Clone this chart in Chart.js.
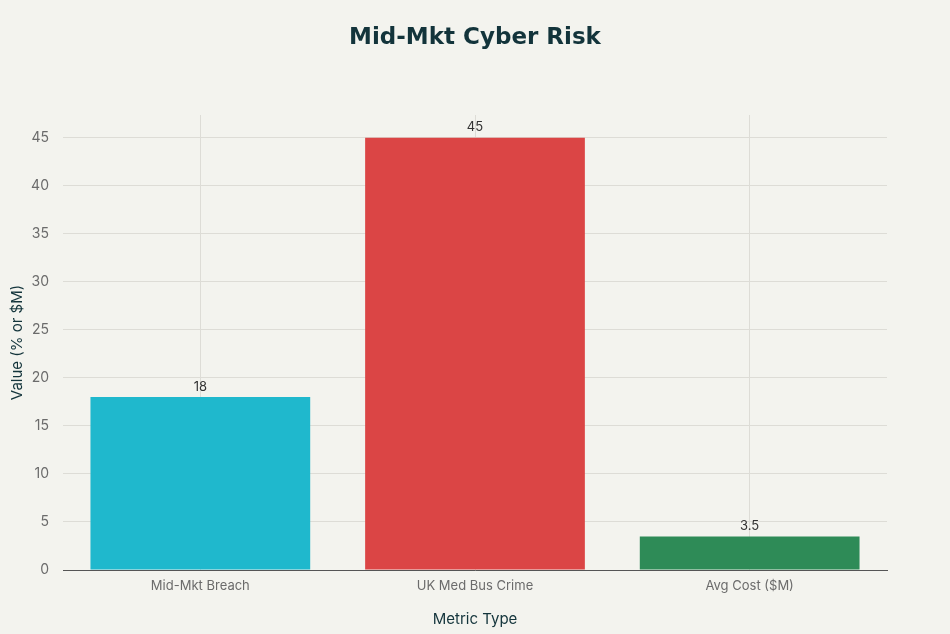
<!DOCTYPE html>
<html>
<head>
<meta charset="utf-8">
<script src="https://cdn.jsdelivr.net/npm/chart.js@4"></script>
<style>
html,body{margin:0;padding:0;background:#f3f3ee;}
#wrap{width:950px;height:634px;position:relative;}
</style>
</head>
<body>
<div id="wrap"><canvas id="c" width="950" height="634"></canvas></div>
<script>
const categories = ["Mid-Mkt Breach", "UK Med Bus Crime", "Avg Cost ($M)"];
const values = [18, 45, 3.5];
const valueLabels = ["18", "45", "3.5"];
const barColors = ["#1fb8cd", "#db4545", "#2e8b57"];
const yTicks = [0, 5, 10, 15, 20, 25, 30, 35, 40, 45];
const titleText = "Mid-Mkt Cyber Risk";
const xTitle = "Metric Type";
const yTitle = "Value (% or $M)";

const FONT = "Inter, 'Noto Sans', sans-serif";

const bgPlugin = {
  id: 'bg',
  beforeDraw(chart) {
    const ctx = chart.ctx;
    ctx.save();
    ctx.fillStyle = '#f3f3ee';
    ctx.fillRect(0, 0, chart.width, chart.height);
    ctx.restore();
  }
};

const titlePlugin = {
  id: 'pageTitle',
  afterDraw(chart) {
    const ctx = chart.ctx;
    ctx.save();
    ctx.font = "bold 23px 'DejaVu Sans', Verdana, sans-serif";
    ctx.fillStyle = '#13343b';
    ctx.textAlign = 'center';
    ctx.textBaseline = 'middle';
    ctx.fillText(titleText, chart.width / 2, 38);
    ctx.restore();
  }
};

const labelPlugin = {
  id: 'valLabels',
  afterDatasetsDraw(chart) {
    const ctx = chart.ctx;
    const meta = chart.getDatasetMeta(0);
    ctx.save();
    ctx.font = "13px " + FONT;
    ctx.fillStyle = '#333333';
    ctx.textAlign = 'center';
    ctx.textBaseline = 'bottom';
    meta.data.forEach((bar, i) => {
      ctx.fillText(valueLabels[i], bar.x, bar.y - 4);
    });
    ctx.restore();
  }
};

new Chart(document.getElementById('c'), {
  type: 'bar',
  data: {
    labels: categories,
    datasets: [{
      data: values,
      backgroundColor: barColors,
      borderWidth: 0,
      categoryPercentage: 0.8,
      barPercentage: 1.0
    }]
  },
  options: {
    responsive: false,
    animation: false,
    devicePixelRatio: 1,
    layout: { padding: { left: 0, right: 63, top: 115, bottom: 0 } },
    plugins: {
      legend: { display: false },
      tooltip: { enabled: false },
      title: { display: false }
    },
    scales: {
      x: {
        grid: { display: true, offset: false, color: '#dddcd6', drawTicks: false },
        border: { display: true, color: '#555555', width: 1 },
        ticks: { color: '#6b6b6b', font: { family: FONT, size: 13 }, padding: 8 },
        title: {
          display: true, text: xTitle, color: '#13343b',
          font: { family: FONT, size: 15 }, padding: { top: 4, bottom: 6 }
        },
        afterFit(scale) { scale.height = 64; }
      },
      y: {
        min: 0,
        max: 47.37,
        grid: { color: '#dddcd6', drawTicks: false },
        border: { display: false },
        afterBuildTicks(scale) { scale.ticks = yTicks.map(v => ({ value: v })); },
        ticks: { color: '#6b6b6b', font: { family: FONT, size: 14 }, padding: 14, includeBounds: false },
        title: {
          display: true, text: yTitle, color: '#13343b',
          font: { family: FONT, size: 15 }, padding: { top: 8, bottom: 4 }
        },
        afterFit(scale) { scale.width = 63; }
      }
    }
  },
  plugins: [bgPlugin, labelPlugin, titlePlugin]
});
</script>
</body>
</html>
